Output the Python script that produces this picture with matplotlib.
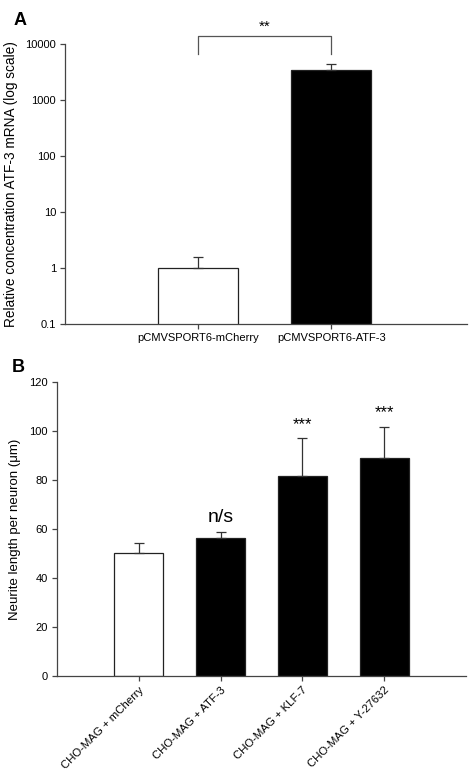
import numpy as np
from matplotlib import pyplot as plt

plt.rcParams['font.family'] = ['Liberation Sans', 'DejaVu Sans']

# panel A data
a_labels = ['pCMVSPORT6-mCherry', 'pCMVSPORT6-ATF-3']
a_values = [1.0, 3450]
a_err = [0.58, 880]
a_colors = ['white', 'black']

# panel B data
b_labels = ['CHO-MAG + mCherry', 'CHO-MAG + ATF-3', 'CHO-MAG + KLF-7', 'CHO-MAG + Y-27632']
b_values = [50.3, 56.4, 81.7, 88.8]
b_err = [3.9, 2.2, 15.3, 12.9]
b_colors = ['white', 'black', 'black', 'black']
b_marks = ['', 'n/s', '***', '***']

fig = plt.figure(figsize=(4.71, 7.73), dpi=100)

def style(ax):
	ax.spines['top'].set_visible(False)
	ax.spines['right'].set_visible(False)
	for s in ['left', 'bottom']:
		ax.spines[s].set_color('#444444')
		ax.spines[s].set_linewidth(0.9)
	ax.tick_params(direction='out', length=3.5, width=0.9, color='#444444',
		labelsize=8, pad=3)

# ---- A ----
axA = fig.add_axes([0.138, 0.581, 0.8535, 0.362])
xa = np.arange(len(a_values))
axA.bar(xa, a_values, width=0.6, color=a_colors, edgecolor='#222222', linewidth=0.9)
axA.errorbar(xa, a_values, yerr=[np.zeros(len(a_err)), a_err], fmt='none',
	ecolor='#333333', elinewidth=0.9, capsize=3.5, capthick=0.9)
axA.set_yscale('log')
axA.set_ylim(0.1, 10000)
axA.set_xlim(-1, 2.02)
axA.set_yticks([0.1, 1, 10, 100, 1000, 10000])
axA.set_yticklabels(['0.1', '1', '10', '100', '1000', '10000'])
axA.minorticks_off()
axA.set_xticks(xa)
axA.set_xticklabels(a_labels, fontsize=8.3)
axA.set_ylabel('Relative concentration ATF-3 mRNA (log scale)', fontsize=9.8, labelpad=5)
style(axA)
# bracket
axA.plot([0, 0, 1, 1], [6600, 13900, 13900, 6600], color='#555555', lw=0.9, clip_on=False)
axA.text(0.5, 15500, '**', ha='center', va='bottom', fontsize=11)
fig.text(0.028, 0.973, 'A', fontsize=13, fontweight='bold', va='center')

# ---- B ----
axB = fig.add_axes([0.121, 0.1255, 0.868, 0.3805])
xb = np.arange(len(b_values))
axB.bar(xb, b_values, width=0.6, color=b_colors, edgecolor='#222222', linewidth=0.9)
axB.errorbar(xb, b_values, yerr=[np.zeros(len(b_err)), b_err], fmt='none',
	ecolor='#333333', elinewidth=0.9, capsize=3.5, capthick=0.9)
axB.set_ylim(0, 120)
axB.set_xlim(-1, 4)
axB.set_yticks(np.arange(0, 121, 20))
axB.set_xticks(xb)
style(axB)
axB.set_xticklabels(b_labels, rotation=45, ha='right', rotation_mode='anchor', fontsize=8.2)
axB.set_ylabel('Neurite length per neuron (\u03bcm)', fontsize=9.5, labelpad=6)
for i, m in enumerate(b_marks):
	if m == 'n/s':
		axB.text(xb[i], b_values[i] + b_err[i] + 2.5, m, ha='center', va='bottom', fontsize=14)
	elif m:
		axB.text(xb[i], b_values[i] + b_err[i] + 2.5, m, ha='center', va='bottom', fontsize=12)
fig.text(0.025, 0.525, 'B', fontsize=13, fontweight='bold', va='center')

fig.savefig('out.png', dpi=100)
